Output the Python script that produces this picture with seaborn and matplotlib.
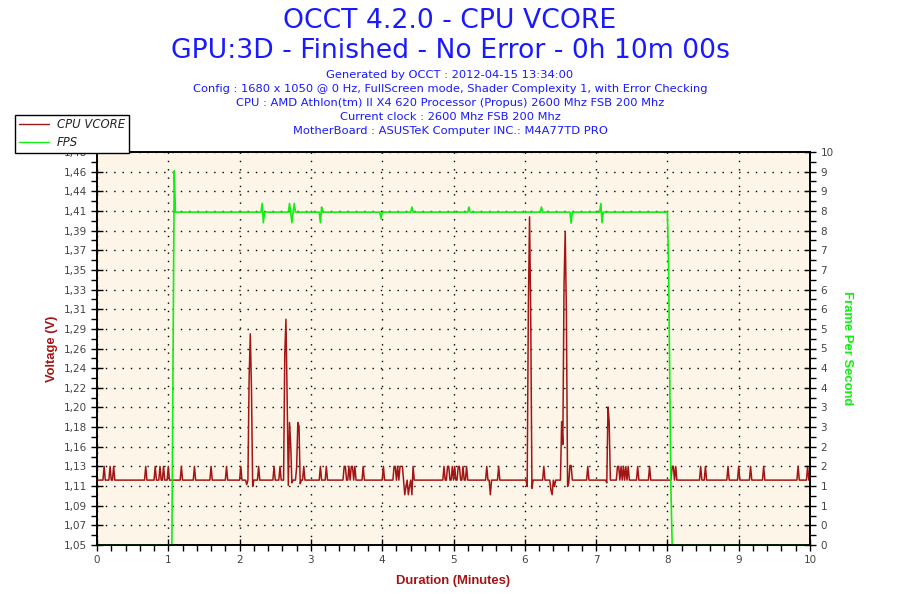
import numpy as np
import pandas as pd
import seaborn as sns
import matplotlib
matplotlib.use('Agg')
import matplotlib.pyplot as plt
from matplotlib.ticker import MultipleLocator, FixedLocator
from matplotlib.lines import Line2D

sns.set_style('white')
plt.rcParams['font.family'] = ['DejaVu Sans']

# ---- data ----
title1 = 'OCCT 4.2.0 - CPU VCORE'
title2 = 'GPU:3D - Finished - No Error - 0h 10m 00s'
info_lines = [
    'Generated by OCCT : 2012-04-15 13:34:00',
    'Config : 1680 x 1050 @ 0 Hz, FullScreen mode, Shader Complexity 1, with Error Checking',
    'CPU : AMD Athlon(tm) II X4 620 Processor (Propus) 2600 Mhz FSB 200 Mhz',
    'Current clock : 2600 Mhz FSB 200 Mhz',
    'MotherBoard : ASUSTeK Computer INC.: M4A77TD PRO',
]

# one sample per second over 10 minutes
vcore_base = 1.121
vcore_times = [0.10, 0.18, 0.23, 0.68, 0.82, 0.89, 0.93, 1.00, 1.19, 1.37, 1.60, 1.81,
               2.02, 2.107, 2.133, 2.15, 2.167, 2.183, 2.26, 2.49, 2.56,
               2.633, 2.65, 2.667, 2.683, 2.70, 2.717, 2.733, 2.80, 2.817, 2.833, 2.85, 2.90,
               3.14, 3.21, 3.46, 3.48, 3.54, 3.56, 3.59, 3.62, 3.73, 4.02,
               4.16, 4.18, 4.21, 4.25, 4.27, 4.29, 4.31, 4.33, 4.36, 4.39, 4.41, 4.44,
               4.87, 4.92, 4.94, 4.99, 5.01, 5.07, 5.09, 5.13, 5.19, 5.46, 5.52, 5.64,
               6.033, 6.05, 6.067, 6.083, 6.10, 6.26, 6.36, 6.39, 6.42,
               6.517, 6.533, 6.55, 6.567, 6.583, 6.60, 6.617, 6.633, 6.65, 6.88,
               7.15, 7.167, 7.183, 7.30, 7.32, 7.35, 7.38, 7.41, 7.45, 7.59, 7.75,
               8.06, 8.09, 8.11, 8.47, 8.54, 8.85, 9.00, 9.17, 9.35, 9.84, 9.96]
vcore_values = [1.136, 1.136, 1.136, 1.136, 1.136, 1.136, 1.136, 1.136, 1.136, 1.136, 1.136, 1.136,
                1.136, 1.116, 1.232, 1.281, 1.220, 1.114, 1.136, 1.136, 1.136,
                1.258, 1.297, 1.212, 1.115, 1.184, 1.160, 1.118, 1.135, 1.184, 1.180, 1.117, 1.136,
                1.136, 1.136, 1.136, 1.136, 1.136, 1.136, 1.136, 1.136, 1.136, 1.136,
                1.136, 1.136, 1.136, 1.136, 1.136, 1.136, 1.105, 1.114, 1.105, 1.114, 1.105, 1.136,
                1.136, 1.136, 1.136, 1.136, 1.136, 1.136, 1.136, 1.136, 1.136, 1.136, 1.105, 1.136,
                1.114, 1.311, 1.409, 1.298, 1.112, 1.136, 1.110, 1.105, 1.114,
                1.185, 1.160, 1.333, 1.393, 1.305, 1.114, 1.118, 1.137, 1.137, 1.136,
                1.118, 1.201, 1.185, 1.136, 1.136, 1.136, 1.136, 1.136, 1.136, 1.136, 1.136,
                1.136, 1.136, 1.136, 1.136, 1.136, 1.136, 1.136, 1.136, 1.136, 1.136, 1.136]

fps_plateau = 8.47
fps_start, fps_end = 1.10, 8.00
fps_times = [1.05, 1.067, 1.083, 2.32, 2.333, 2.70, 2.74, 2.77, 3.14, 3.15,
             3.98, 3.99, 4.41, 5.21, 5.22, 6.23, 6.24, 6.65, 7.07, 7.08,
             8.017, 8.033, 8.05, 8.067]
fps_values = [0.0, 4.72, 9.52, 8.69, 8.20, 8.69, 8.20, 8.69, 8.20, 8.60,
              8.69, 8.30, 8.60, 8.25, 8.60, 8.32, 8.60, 8.19, 8.69, 8.20,
              7.04, 4.20, 1.40, 0.0]

volt_ticklabels = ['1,05', '1,07', '1,09', '1,11', '1,13', '1,16', '1,18', '1,20', '1,22', '1,24',
                   '1,26', '1,29', '1,31', '1,33', '1,35', '1,37', '1,39', '1,41', '1,44', '1,46', '1,48']
fps_ticklabels = ['0', '0', '1', '1', '2', '2', '3', '3', '4', '4', '5',
                  '5', '6', '6', '7', '7', '8', '8', '9', '9', '10']

# ---- build the sampled series ----
t = np.arange(601) / 60.0
vcore = np.full(t.size, vcore_base)
for tt, vv in zip(vcore_times, vcore_values):
    vcore[int(round(tt * 60))] = vv
fps = np.zeros(t.size)
fps[(t >= fps_start) & (t <= fps_end)] = fps_plateau
for tt, vv in zip(fps_times, fps_values):
    fps[int(round(tt * 60))] = vv
df = pd.DataFrame({'minutes': t, 'vcore': vcore, 'fps': fps})

red = '#a31515'
green = '#11ee11'
blue = '#1a1aff'

fig = plt.figure(figsize=(9, 6), dpi=100)
ax = fig.add_axes([97/900, 55/600, 713/900, 393/600])
ax.set_facecolor('#fdf6e8')
ax2 = ax.twinx()

sns.lineplot(data=df, x='minutes', y='vcore', ax=ax, color=red, lw=1.1,
             estimator=None, sort=False, legend=False)
sns.lineplot(data=df, x='minutes', y='fps', ax=ax2, color=green, lw=1.2,
             estimator=None, sort=False, legend=False)

ax.set_xlim(0, 10)
ax.set_ylim(1.05, 1.48)
ax2.set_ylim(0, 10)

vt = np.linspace(1.05, 1.48, 21)
ax.yaxis.set_major_locator(FixedLocator(vt))
ax.set_yticklabels(volt_ticklabels)
ax.yaxis.set_minor_locator(FixedLocator((vt[:-1] + vt[1:]) / 2))
ax.xaxis.set_major_locator(MultipleLocator(1))
ax.xaxis.set_minor_locator(MultipleLocator(0.2))
ax2.yaxis.set_minor_locator(MultipleLocator(0.25))
ax2.set_yticks(np.arange(0, 10.01, 0.5))
ax2.set_yticklabels(fps_ticklabels)

for a in (ax, ax2):
    for s in a.spines.values():
        s.set_color('black')
        s.set_linewidth(1.2)
ax.tick_params(which='major', direction='inout', length=9, width=1, color='black',
               labelsize=7.5, labelcolor='#444444', pad=3, left=True, bottom=True)
ax.tick_params(which='minor', direction='out', length=4, width=1, color='black', left=True, bottom=True)
ax2.tick_params(which='major', direction='inout', length=9, width=1, color='black',
                labelsize=7.5, labelcolor='#444444', pad=3, right=True)
ax2.tick_params(which='minor', direction='out', length=4, width=1, color='black', right=True)

ax.grid(True, which='major', color='black', linestyle=(0, (1, 5)), linewidth=1)
ax2.grid(False)

ax.set_xlabel('Duration (Minutes)', color=red, fontsize=9.4, fontweight='bold',
              family='Liberation Sans', labelpad=7)
ax.set_ylabel('Voltage (V)', color=red, fontsize=9.4, fontweight='bold',
              family='Liberation Sans', labelpad=4)
ax2.set_ylabel('Frame Per Second', color=green, fontsize=9.4, fontweight='bold',
               family='Liberation Sans', rotation=270, labelpad=14)

fig.text(0.5, 1 - 21/600, title1, ha='center', va='center', color=blue, fontsize=19.2)
fig.text(0.5, 1 - 51/600, title2, ha='center', va='center', color=blue, fontsize=19.2)
for i, line in enumerate(info_lines):
    fig.text(0.5, 1 - (75 + 14*i)/600, line, ha='center', va='center', color=blue, fontsize=8.25)

handles = [Line2D([], [], color=red, lw=1), Line2D([], [], color=green, lw=1)]
leg = fig.legend(handles, ['CPU VCORE', 'FPS'], loc='upper left',
                 bbox_to_anchor=(15/900, 1 - 115/600), frameon=True, fancybox=False,
                 borderaxespad=0, handlelength=2.6, fontsize=8.4, borderpad=0.3,
                 labelspacing=0.42, handletextpad=0.7)
leg.get_frame().set_edgecolor('black')
leg.get_frame().set_linewidth(1)
leg.get_frame().set_facecolor('white')
leg.get_frame().set_alpha(1)
for txt in leg.get_texts():
    txt.set_fontstyle('italic')
    txt.set_color('#222222')

fig.savefig('out.png', dpi=100, facecolor='white')
